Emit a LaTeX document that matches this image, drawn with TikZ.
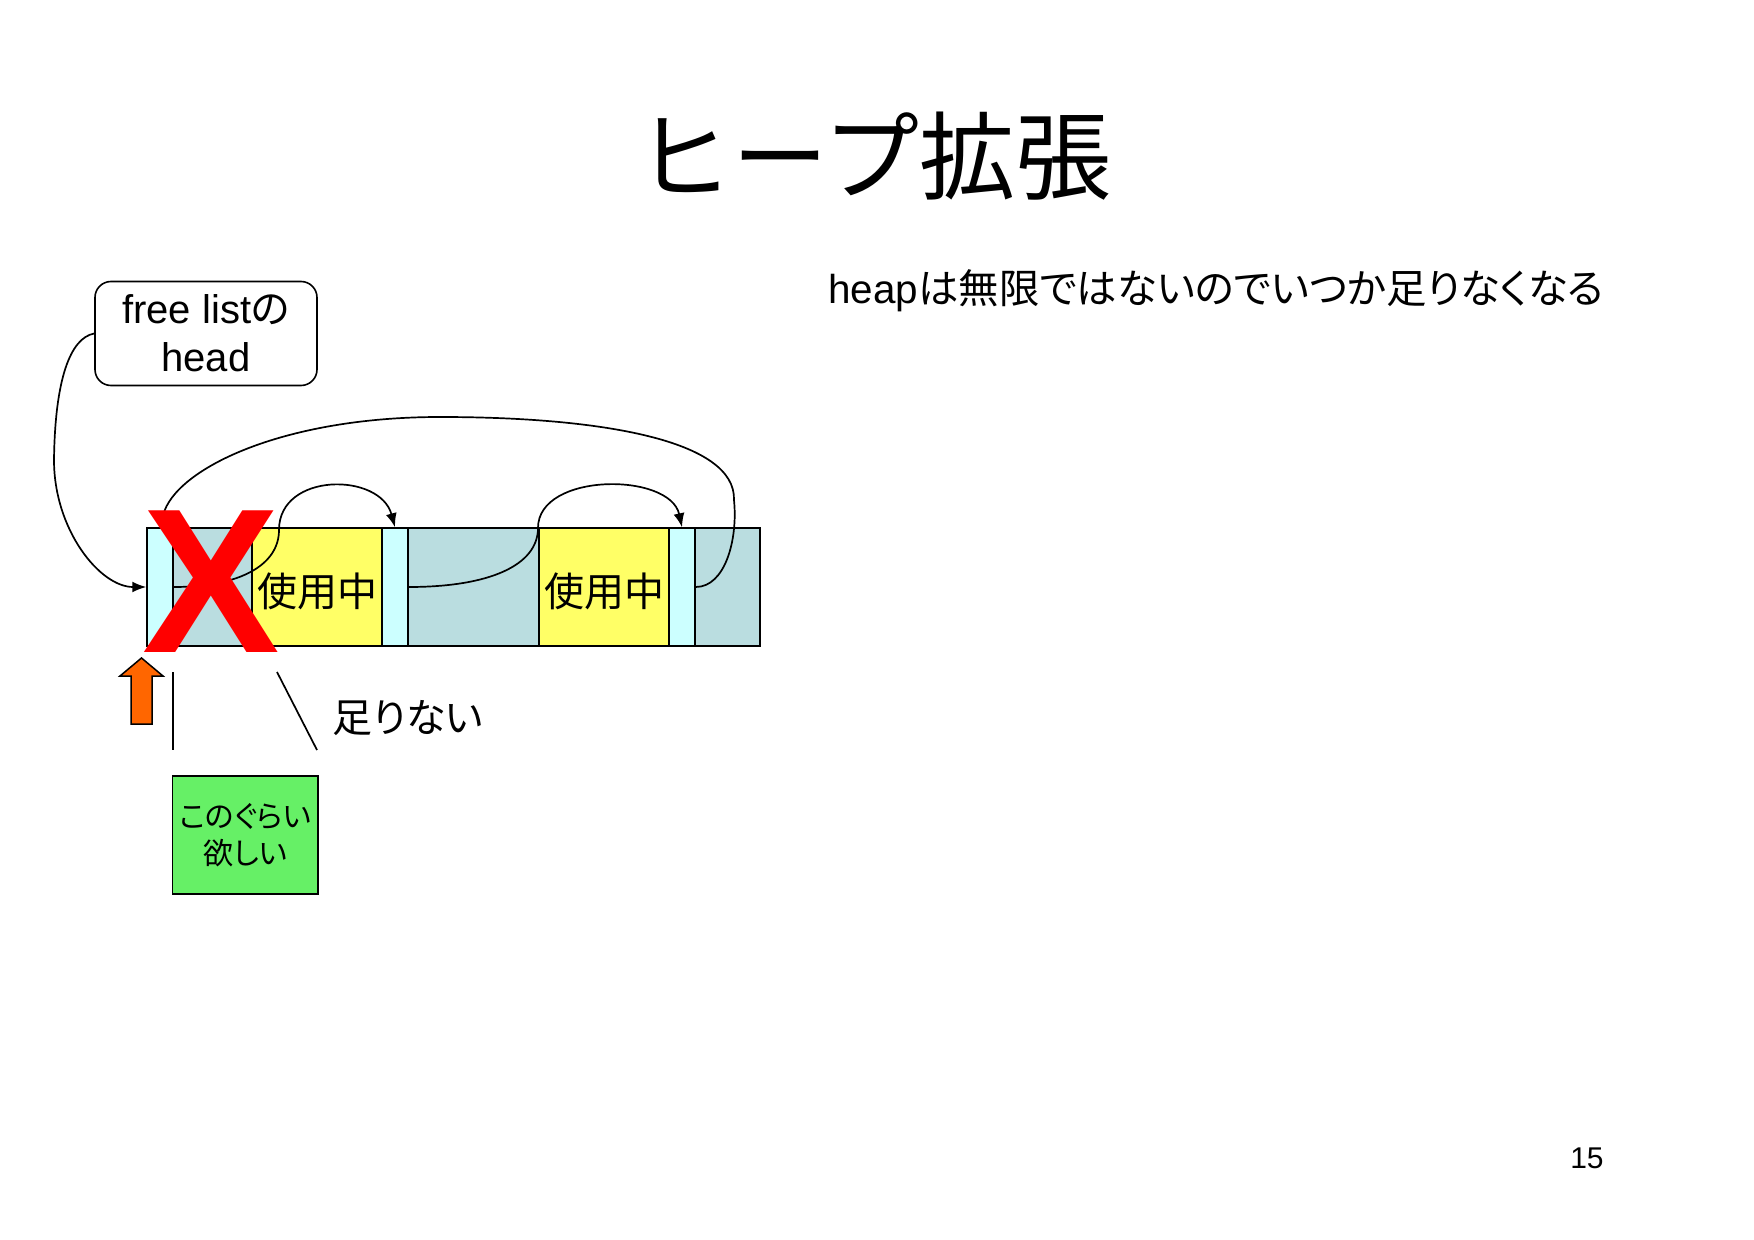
\documentclass[tikz,border=0pt]{standalone}
\usepackage{fontspec}
\setmainfont{Liberation Sans}
\newfontfamily\jp{Noto Sans CJK JP}
\newfontfamily\jpp[RawFeature=+palt]{Noto Sans CJK JP}
\usetikzlibrary{arrows.meta,fit}
\definecolor{hdr}{HTML}{CCFFFF}
\definecolor{freec}{HTML}{BADDE0}
\definecolor{usedc}{HTML}{FFFF66}
\definecolor{grn}{HTML}{66F066}
\definecolor{orng}{HTML}{FF6600}
\begin{document}
\begin{tikzpicture}[x=0.5pt,y=-0.5pt,
  seg/.style={draw=black,line width=0.75pt,inner sep=0pt},
  hdrseg/.style={seg,fill=hdr},
  freeseg/.style={seg,fill=freec},
  usedseg/.style={seg,fill=usedc},
  usedtext/.style={inner sep=0pt,font=\jp\fontsize{20}{24}\selectfont},
  link/.style={line width=0.85pt,-{Latex[length=7pt,width=5.5pt]}},
  plain/.style={line width=0.85pt},
  jtext/.style={font=\jpp\fontsize{20}{24}\selectfont}]
\useasboundingbox (0,0) rectangle (1754,1240);
\fill[white] (0,0) rectangle (1754,1240);

% title and remarks
\node[font=\jp\fontsize{48}{48}\selectfont] (title) at (874,156) {ヒープ拡張};
\node[anchor=base west,inner sep=0pt,font=\fontsize{20.2}{24}\selectfont] (sub) at (828,304) {heap{\jpp は無限ではないのでいつか足りなくなる}};
\node[anchor=base east,inner sep=0pt,font=\fontsize{15}{18}\selectfont] (pg) at (1604,1168) {15};

% free list head
\node[draw,rounded corners=8pt,line width=0.8pt,minimum width=111pt,minimum height=52pt,align=center,font=\fontsize{20}{24}\selectfont] (head) at (206,333.5) {free list{\jpp の}\\head};

% heap bar
\node[hdrseg,fit={(147,528) (173,646)}] (h1) {};
\node[freeseg,fit={(173,528) (252,646)}] (f1) {};
\node[usedseg,fit={(252,528) (382,646)}] (u1) {};
\node[hdrseg,fit={(382,528) (408,646)}] (h2) {};
\node[freeseg,fit={(408,528) (539,646)}] (f2) {};
\node[usedseg,fit={(539,528) (669,646)}] (u2) {};
\node[hdrseg,fit={(669,528) (695,646)}] (h3) {};
\node[freeseg,fit={(695,528) (760,646)}] (f3) {};
\node[usedtext] (u1t) at ([yshift=-2]u1.center) {使用中};
\node[usedtext] (u2t) at ([yshift=-2]u2.center) {使用中};

% links
\draw[link] (head.west) .. controls (70,338) and (55,380) .. (54,460)
   .. controls (54,530) and (100,587) .. (h1.west);
\draw[link] (h1.east) .. controls (240,587) and (279,565) .. (279,530)
   .. controls (279,472) and (380,472) .. (h2.north);
\draw[link] (h2.east) .. controls (490,587) and (538,565) .. (538,528)
   .. controls (538,472) and (670,472) .. (h3.north);
\draw[link] (h3.east) .. controls (725,587) and (738,540) .. (734,500)
   .. controls (736,440) and (600,417) .. (440,417)
   .. controls (280,417) and (175,470) .. (h1.north);

% cross
\node[anchor=base west,inner sep=0pt,text=red,font=\bfseries\fontsize{103}{103}\selectfont] (cross) at (142,652) {X};

% orange arrow
\filldraw[fill=orng,draw=black,line width=0.75pt]
  (131,724) -- (131,676) -- (120,676) -- (141.5,658) -- (163,676) -- (152,676) -- (152,724) -- cycle;

% size markers
\coordinate (va) at (173.3,672);
\coordinate (vb) at (173.3,750);
\coordinate (da) at (277,672);
\coordinate (db) at (317,750);
\draw[plain] (va) -- (vb);
\draw[plain] (da) -- (db);
\node[jtext] (short) at (408,718) {足りない};

% wanted size
\node[draw,fill=grn,line width=0.75pt,minimum width=72pt,minimum height=59pt,align=center,font=\jpp\fontsize{15}{18.75}\selectfont] (want) at (245.3,835) {このぐらい\\欲しい};
\end{tikzpicture}
\end{document}
